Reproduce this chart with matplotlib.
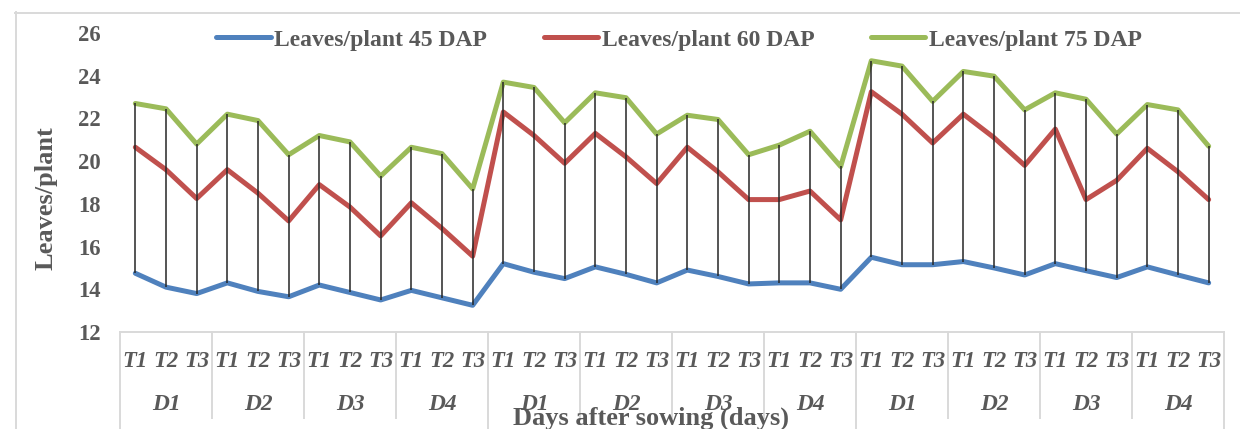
import matplotlib
matplotlib.use("Agg")
import matplotlib.pyplot as plt
import matplotlib.transforms as mtransforms
from matplotlib.lines import Line2D
import numpy as np

plt.rcParams['font.family'] = ['Liberation Serif', 'DejaVu Serif']

# data
t_labels = ["T1", "T2", "T3"]
d_labels = ["D1", "D2", "D3", "D4"]
n_sets = 3

lp45 = [14.75, 14.1, 13.8, 14.3, 13.9, 13.65, 14.2, 13.85, 13.5, 13.95, 13.6, 13.25,
        15.2, 14.8, 14.5, 15.05, 14.7, 14.3, 14.9, 14.6, 14.25, 14.3, 14.3, 14.0,
        15.5, 15.15, 15.15, 15.3, 15.0, 14.67, 15.2, 14.87, 14.55, 15.05, 14.67, 14.3]
lp60 = [20.65, 19.6, 18.25, 19.6, 18.5, 17.2, 18.9, 17.85, 16.5, 18.05, 16.85, 15.55,
        22.3, 21.2, 19.9, 21.3, 20.2, 18.95, 20.65, 19.5, 18.2, 18.2, 18.6, 17.25,
        23.25, 22.2, 20.85, 22.2, 21.1, 19.8, 21.5, 18.2, 19.1, 20.6, 19.5, 18.2]
lp75 = [22.7, 22.45, 20.8, 22.2, 21.9, 20.3, 21.2, 20.9, 19.3, 20.65, 20.35, 18.7,
        23.7, 23.45, 21.8, 23.2, 22.97, 21.27, 22.15, 21.95, 20.3, 20.75, 21.4, 19.75,
        24.7, 24.45, 22.8, 24.2, 23.98, 22.4, 23.2, 22.9, 21.27, 22.65, 22.4, 20.7]

series = [("Leaves/plant 45 DAP", lp45, "#4F81BD"),
          ("Leaves/plant 60 DAP", lp60, "#C0504D"),
          ("Leaves/plant 75 DAP", lp75, "#9BBB59")]

txt = "#595959"
grid_c = "#D9D9D9"

W, H = 1240, 429
fig = plt.figure(figsize=(W / 100, H / 100), dpi=100)
ax = fig.add_axes([120 / W, 1 - 332 / H, 1104 / W, 299 / H])

x = np.arange(len(lp45))
for name, vals, col in series:
    ax.plot(x, vals, color=col, lw=3.6, label=name, solid_capstyle='round',
            solid_joinstyle='round', zorder=2)
ax.vlines(x, lp45, lp75, color="#262626", lw=1.1, zorder=3)

ax.set_xlim(-0.5, len(x) - 0.5)
ax.set_ylim(12, 26)
ax.set_yticks(range(12, 27, 2))
ax.tick_params(axis='y', length=0, pad=14, labelsize=16.3, labelcolor=txt)
for lab in ax.get_yticklabels():
    lab.set_fontweight('bold')
ax.set_xticks([])
for s in ['left', 'right', 'top']:
    ax.spines[s].set_visible(False)
ax.spines['bottom'].set_color(grid_c)
ax.spines['bottom'].set_linewidth(1.4)

# multi-level category axis
trans = mtransforms.blended_transform_factory(ax.transData, ax.transAxes)
n_t = len(t_labels)
n_d = len(d_labels)
for i in x:
    ax.text(i, -0.097, t_labels[i % n_t], transform=trans, ha='center', va='center',
            fontsize=16.3, fontweight='bold', style='italic', color=txt)
for g in range(n_sets * n_d):
    xc = g * n_t + (n_t - 1) / 2
    ax.text(xc, -0.244, d_labels[g % n_d], transform=trans, ha='center', va='center',
            fontsize=16.8, fontweight='bold', style='italic', color=txt)
for g in range(n_sets * n_d + 1):
    xb = g * n_t - 0.5
    y_end = -0.4 if g % n_d == 0 else -0.288
    ax.add_line(Line2D([xb, xb], [0, y_end], transform=trans, color=grid_c,
                       lw=1.4, clip_on=False))

fig.text(651 / W, 1 - 418 / H, "Days after sowing (days)", ha='center', va='center',
         fontsize=19, fontweight='bold', color=txt)
fig.text(46 / W, 1 - 198 / H, "Leaves/plant", ha='center', va='center', rotation=90,
         fontsize=19, fontweight='bold', color=txt)

ax.legend(loc='center', bbox_to_anchor=(679 / W, 1 - 40 / H), bbox_transform=fig.transFigure,
          ncol=3, frameon=False, prop={'weight': 'bold', 'size': 17}, labelcolor=txt,
          handlelength=2.3, handletextpad=0.15, columnspacing=2.4)

# outer chart frame
fig.add_artist(Line2D([15.5 / W, 15.5 / W], [0, 1 - 12 / H], transform=fig.transFigure,
                      color=grid_c, lw=1.4))
fig.add_artist(Line2D([15 / W, 1], [1 - 12.5 / H, 1 - 12.5 / H], transform=fig.transFigure,
                      color=grid_c, lw=1.4))

fig.savefig("out.png", dpi=100, facecolor='white')
